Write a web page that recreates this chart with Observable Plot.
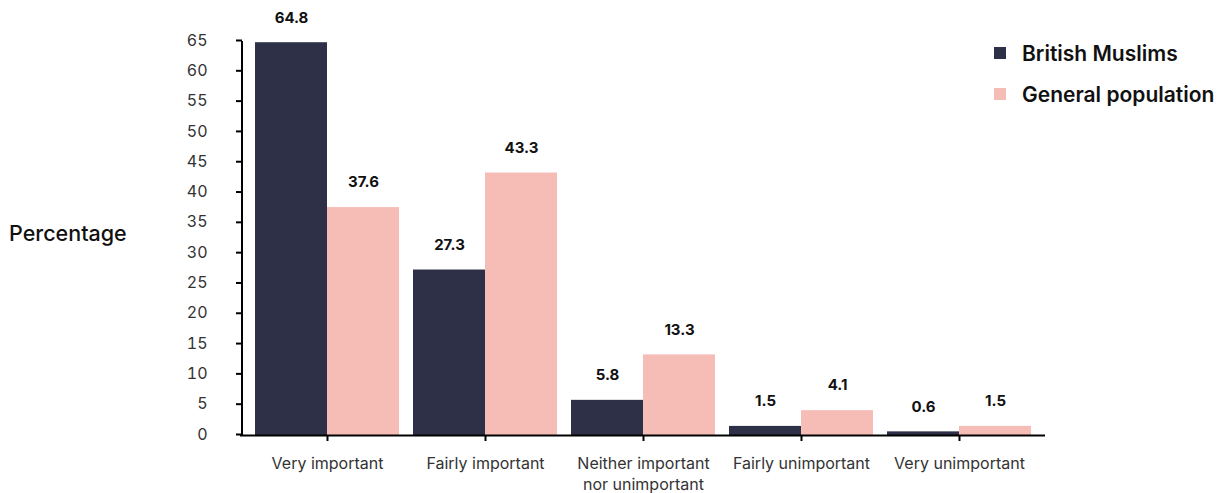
<!DOCTYPE html>
<html>
<head>
<meta charset="utf-8">
<script src="https://cdn.jsdelivr.net/npm/d3@7"></script>
<script src="https://cdn.jsdelivr.net/npm/@observablehq/plot@0.6"></script>
<style>
  html, body { margin: 0; padding: 0; background: #fff; }
  body { font-family: Inter, "Noto Sans", sans-serif; }
  #wrap { position: relative; width: 1231px; height: 493px; }
  #ylabel { position: absolute; left: 9px; top: 220px; font-size: 21.5px; font-weight: 500; color: #111; }
  #legend { position: absolute; left: 994px; top: 39px; font-size: 21px; font-weight: 600; color: #111; }
  .row { display: flex; align-items: center; height: 28px; margin-bottom: 13px; }
  .sw { width: 12px; height: 12px; margin-right: 16px; }
</style>
</head>
<body>
<div id="wrap">
  <div id="chart"></div>
  <div id="ylabel">Percentage</div>
  <div id="legend"></div>
</div>
<script>
const categories = ["Very important", "Fairly important", "Neither important\nnor unimportant", "Fairly unimportant", "Very unimportant"];
const seriesNames = ["British Muslims", "General population"];
const britishMuslims = [64.8, 27.3, 5.8, 1.5, 0.6];
const generalPopulation = [37.6, 43.3, 13.3, 4.1, 1.5];
const yTicks = [0, 5, 10, 15, 20, 25, 30, 35, 40, 45, 50, 55, 60, 65];
const colors = ["#2d3047", "#f5bdb5"];

const bm = categories.map((c, i) => ({category: c, value: britishMuslims[i], series: seriesNames[0]}));
const gp = categories.map((c, i) => ({category: c, value: generalPopulation[i], series: seriesNames[1]}));

const half = 72;
const plot = Plot.plot({
  width: 1231,
  height: 493,
  marginLeft: 242,
  marginRight: 186,
  marginTop: 41,
  marginBottom: 58,
  style: {fontFamily: "Inter, 'Noto Sans', sans-serif", fontSize: "16px", color: "#333", background: "transparent"},
  x: {domain: categories, paddingInner: 0.0886, paddingOuter: 0.084, label: null},
  y: {domain: [0, 65], label: null},
  marks: [
    Plot.axisX({tickSize: 6, tickPadding: 13, lineHeight: 1.3, fontSize: 16, fill: "#333"}),
    Plot.axisY({ticks: yTicks, tickSize: 6, tickPadding: 29, fontSize: 16, fill: "#333", dy: -1}),
    Plot.barY(bm, {x: "category", y: "value", fill: colors[0], insetRight: half}),
    Plot.barY(gp, {x: "category", y: "value", fill: colors[1], insetLeft: half}),
    Plot.text(bm, {x: "category", y: "value", text: d => d.value.toFixed(1), dx: -half / 2, dy: -25, fontWeight: 700, fontSize: 15, fill: "#111"}),
    Plot.text(gp, {x: "category", y: "value", text: d => d.value.toFixed(1), dx: half / 2, dy: -25, fontWeight: 700, fontSize: 15, fill: "#111"}),
    Plot.ruleY([0], {stroke: "#000", strokeWidth: 2, insetLeft: -2})
  ]
});
document.getElementById("chart").appendChild(plot);

// y-axis line drawn via the plot's own y scale
const ys = plot.scale("y");
const svg = d3.select(plot);
svg.append("line")
  .attr("x1", 242).attr("x2", 242)
  .attr("y1", ys.apply(65)).attr("y2", ys.apply(0) + 1)
  .attr("stroke", "#000").attr("stroke-width", 2);
svg.selectAll("[aria-label='y-axis tick'] path, [aria-label='x-axis tick'] path").attr("stroke", "#000").attr("stroke-width", 2);

const legend = d3.select("#legend");
seriesNames.forEach((s, i) => {
  const row = legend.append("div").attr("class", "row");
  row.append("div").attr("class", "sw").style("background", colors[i]);
  row.append("span").text(s);
});
</script>
</body>
</html>
